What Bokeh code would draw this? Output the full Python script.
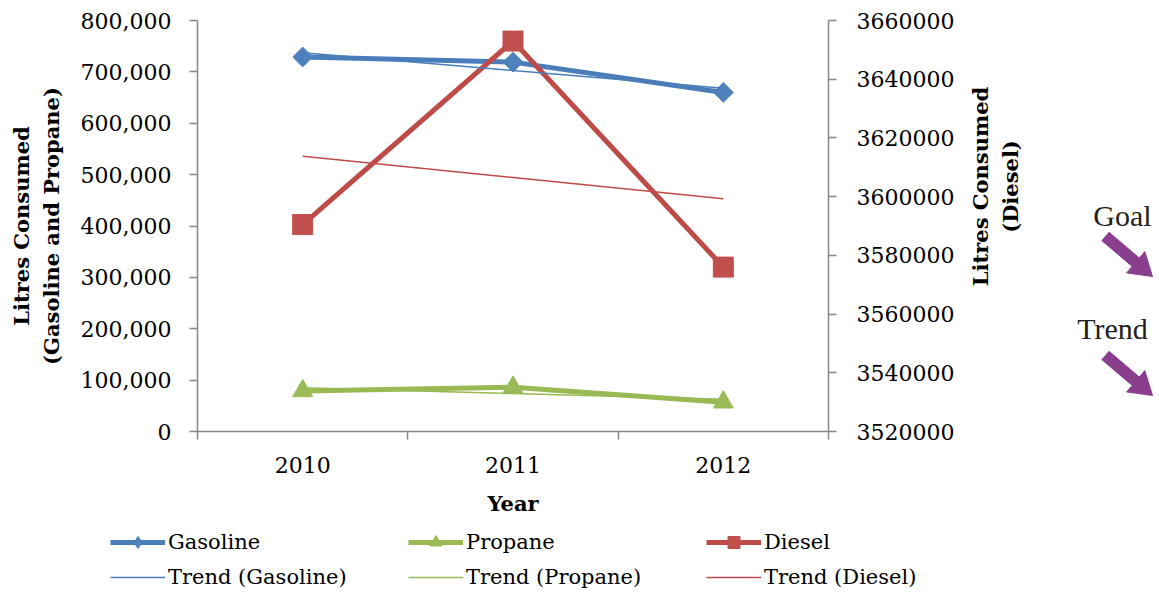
import math
import numpy as np
from bokeh.plotting import figure
from bokeh.layouts import row, column
from bokeh.models import (Range1d, LinearAxis, FixedTicker, NumeralTickFormatter,
                          Legend, LegendItem)
from bokeh.core.properties import value
from bokeh.embed import file_html
from bokeh.resources import INLINE

# ---------------- data ----------------
years = ["2010", "2011", "2012"]
gasoline = [729000, 719000, 660000]
propane = [79000, 86000, 57000]
diesel = [3590500, 3653000, 3576000]
series_names = ["Gasoline", "Propane", "Diesel"]

left_ticks = list(range(0, 800001, 100000))
right_ticks = list(range(3520000, 3660001, 20000))

# category centres on a numeric axis (boundaries at 0,1,2,3)
xpos = [i + 0.5 for i in range(len(years))]
xbounds = list(range(len(years) + 1))


def trend(vals):
    k, b = np.polyfit(xpos, vals, 1)
    return [k * x + b for x in xpos]


SERIF = "DejaVu Serif"
AXIS_GREY = "#878787"
PURPLE = "#8A3E8E"
COL_LINE = {"Gasoline": "#4A7EBB", "Propane": "#98B954", "Diesel": "#BE4B48"}
COL_MARK = {"Gasoline": "#4F81BD", "Propane": "#9BBB59", "Diesel": "#C0504D"}
MARK = {"Gasoline": dict(marker="square", angle=math.pi / 4, size=14),
        "Propane": dict(marker="triangle", size=20),
        "Diesel": dict(marker="square", size=20)}
LEG_MARK = {"Gasoline": dict(marker="diamond", size=19),
            "Propane": dict(marker="triangle", size=13),
            "Diesel": dict(marker="square", size=13)}


def no_align(fig):
    if "frame_align" in fig.properties():
        fig.frame_align = False


# ================= main chart =================
p = figure(width=964, height=526, output_backend="svg", toolbar_location=None,
           x_range=Range1d(0, len(years)), y_range=Range1d(left_ticks[0], left_ticks[-1]),
           min_border_left=197, min_border_right=136, min_border_top=20,
           min_border_bottom=95)
p.extra_y_ranges = {"diesel": Range1d(right_ticks[0], right_ticks[-1])}
p.outline_line_color = None
p.grid.visible = False
no_align(p)

# ---- x axis ----
xa = p.xaxis[0]
xa.ticker = FixedTicker(ticks=xpos, minor_ticks=xbounds)
xa.major_label_overrides = {x: y for x, y in zip(xpos, years)}
xa.major_tick_line_color = None
xa.minor_tick_line_color = AXIS_GREY
xa.minor_tick_line_width = 1.5
xa.minor_tick_out = 8
xa.minor_tick_in = 0
xa.axis_line_color = AXIS_GREY
xa.axis_line_width = 1.5
xa.major_label_text_font = SERIF
xa.major_label_text_font_size = "22px"
xa.major_label_text_color = "black"
xa.major_label_standoff = 17
xa.axis_label = "Year"
xa.axis_label_text_font = SERIF
xa.axis_label_text_font_style = "bold"
xa.axis_label_text_font_size = "21px"
xa.axis_label_text_color = "black"
xa.axis_label_standoff = 15

# ---- left axis ----
ya = p.yaxis[0]
ya.ticker = FixedTicker(ticks=left_ticks)
ya.formatter = NumeralTickFormatter(format="0,0")
ya.axis_line_color = AXIS_GREY
ya.axis_line_width = 1.5
ya.major_tick_line_color = AXIS_GREY
ya.major_tick_line_width = 1.5
ya.major_tick_out = 8
ya.major_tick_in = 0
ya.minor_tick_line_color = None
ya.major_label_text_font = SERIF
ya.major_label_text_font_size = "22px"
ya.major_label_text_color = "black"
ya.major_label_standoff = 18
ya.axis_label = "Litres Consumed\n(Gasoline and Propane)"
ya.axis_label_text_font = SERIF
ya.axis_label_text_font_style = "bold"
ya.axis_label_text_font_size = "21px"
ya.axis_label_text_color = "black"
ya.axis_label_standoff = 14

# ---- right axis ----
ra = LinearAxis(y_range_name="diesel", ticker=FixedTicker(ticks=right_ticks),
                formatter=NumeralTickFormatter(format="0"))
ra.axis_line_color = AXIS_GREY
ra.axis_line_width = 1.5
ra.major_tick_line_color = AXIS_GREY
ra.major_tick_line_width = 1.5
ra.major_tick_out = 8
ra.major_tick_in = 0
ra.minor_tick_line_color = None
ra.major_label_text_font = SERIF
ra.major_label_text_font_size = "22px"
ra.major_label_text_color = "black"
ra.major_label_standoff = 20
p.add_layout(ra, "right")

# ---- series ----
data = {"Gasoline": gasoline, "Propane": propane, "Diesel": diesel}
for name in series_names:
    kw = {"y_range_name": "diesel"} if name == "Diesel" else {}
    p.line(xpos, data[name], line_color=COL_LINE[name], line_width=5,
           line_join="round", **kw)
    p.scatter(xpos, data[name], fill_color=COL_MARK[name], line_color=COL_MARK[name],
              **MARK[name], **kw)
for name in series_names:
    kw = {"y_range_name": "diesel"} if name == "Diesel" else {}
    p.line(xpos, trend(data[name]), line_color=COL_LINE[name], line_width=1.5, **kw)

# ================= legend strip (below the chart) =================
lg = figure(width=964, height=66, output_backend="svg", toolbar_location=None,
            x_range=Range1d(0, 1), y_range=Range1d(0, 1),
            x_axis_type=None, y_axis_type=None,
            min_border_left=0, min_border_right=0, min_border_top=0, min_border_bottom=0)
lg.outline_line_color = None
lg.grid.visible = False
no_align(lg)
off = [-10, -9]  # legend swatch renderers kept outside the strip's visible range
items_top, items_bottom = [], []
for name in series_names:
    r1 = lg.line(off, off, line_color=COL_LINE[name], line_width=5)
    m1 = lg.scatter(off, off, fill_color=COL_MARK[name], line_color=COL_MARK[name],
                    **LEG_MARK[name])
    items_top.append(LegendItem(label=name, renderers=[r1, m1]))
    r2 = lg.line(off, off, line_color=COL_LINE[name], line_width=1.5)
    items_bottom.append(LegendItem(label=f"Trend ({name})", renderers=[r2]))
legend = Legend(items=items_top + items_bottom, orientation="horizontal", ncols=3,
                location=(110, 0))
legend.border_line_color = None
legend.background_fill_alpha = 0
legend.label_text_font = SERIF
legend.label_text_font_size = "21px"
legend.label_text_color = "black"
legend.glyph_width = 55
legend.glyph_height = 30
legend.label_height = 30
legend.label_width = 235
legend.label_standoff = 3
legend.spacing = 5
legend.padding = 0
legend.margin = 0
lg.add_layout(legend, "center")

# ================= side strip: right-axis title and Goal / Trend notes =================
# coordinates in this strip are page pixels (x right, y down)
q = figure(width=195, height=592, output_backend="svg", toolbar_location=None,
           x_range=Range1d(964, 1159), y_range=Range1d(592, 0),
           x_axis_type=None, y_axis_type=None,
           min_border_left=0, min_border_right=0, min_border_top=0, min_border_bottom=0)
q.outline_line_color = None
q.grid.visible = False
no_align(q)

q.text(x=[980, 1010], y=[186, 186], text=["Litres Consumed", "(Diesel)"],
       angle=math.pi / 2, text_align="center", text_baseline="middle",
       text_font=value(SERIF), text_font_style="bold", text_font_size="21px",
       text_color="black")
q.text(x=[1122, 1112], y=[215, 328], text=["Goal", "Trend"],
       text_align="center", text_baseline="alphabetic",
       text_font=value("Liberation Serif"), text_font_size="30px",
       text_color="#231F20")


def arrow_poly(x0, y0, x1, y1, shaft=11, head_len=22, head_w=28):
    L = math.hypot(x1 - x0, y1 - y0)
    ux, uy = (x1 - x0) / L, (y1 - y0) / L
    nx, ny = -uy, ux
    bx, by = x1 - ux * head_len, y1 - uy * head_len
    s, h = shaft / 2, head_w / 2
    pts = [(x0 + nx * s, y0 + ny * s), (bx + nx * s, by + ny * s),
           (bx + nx * h, by + ny * h), (x1, y1),
           (bx - nx * h, by - ny * h), (bx - nx * s, by - ny * s),
           (x0 - nx * s, y0 - ny * s)]
    return [pt[0] for pt in pts], [pt[1] for pt in pts]


xs, ys = [], []
for (x0, y0, x1, y1) in [(1105, 236, 1152, 276), (1105, 355, 1152, 395)]:
    ax, ay = arrow_poly(x0, y0, x1, y1)
    xs.append(ax)
    ys.append(ay)
q.patches(xs, ys, fill_color=PURPLE, line_color=PURPLE, line_width=1)

layout = row(column(p, lg), q)
open("out.html", "w").write(file_html(layout, INLINE))
